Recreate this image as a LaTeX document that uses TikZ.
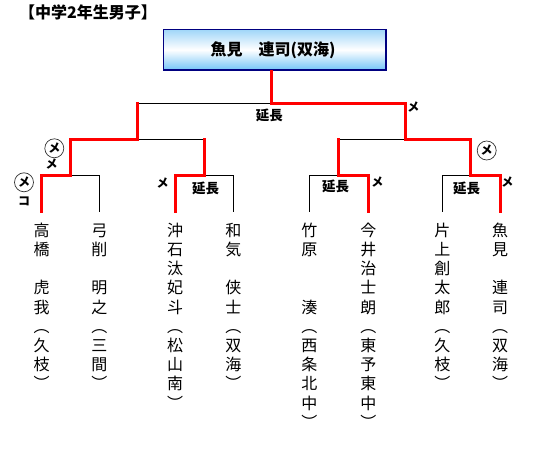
\documentclass[tikz,border=0pt]{standalone}
\usepackage{fontspec}
\setmainfont{Noto Sans CJK JP}
\definecolor{boxtop}{RGB}{160,214,248}
\definecolor{boxbot}{RGB}{115,196,248}
\definecolor{boxline}{RGB}{0,0,128}
\begin{document}
\begin{tikzpicture}[x=1pt,y=-1pt,
  win/.style={draw=red,line width=3pt,line join=miter,line cap=rect},
  lose/.style={draw=black,line width=1pt},
  namecol/.style={anchor=north,inner sep=0pt,align=center,font=\fontsize{16pt}{19.2pt}\selectfont},
  enchou/.style={inner sep=0pt,font=\fontsize{13.5pt}{14pt}\selectfont\bfseries},
  kmark/.style={inner sep=0pt,font=\fontsize{12pt}{12pt}\selectfont\bfseries},
  cmark/.style={circle,draw=black!80,line width=0.7pt,minimum size=19pt,inner sep=0pt,font=\fontsize{12pt}{12pt}\selectfont\bfseries}]
\useasboundingbox (0,0) rectangle (541,457);
% title
\node[inner sep=0pt,font=\fontsize{16pt}{16pt}\selectfont\bfseries] (title) at (88,12.5) {【中学2年生男子】};
% champion box
\shade[top color=boxtop,bottom color=boxbot,middle color=white] (163.5,29.5) rectangle (386,70);
\draw[draw=boxline,line width=1.3pt] (163.5,29.5) rectangle (386,70);
\node[inner sep=0pt,font=\fontsize{16pt}{16pt}\selectfont\bfseries] (champ) at (273,50) {魚見　連司(双海)};
\coordinate (cb) at (271.5,72);
% leaves
\foreach \n/\x in {l1/41.7,l2/99.3,l3/175,l4/233.3,l5/309.3,l6/368.3,l7/442.3,l8/500}{
  \coordinate (\n) at (\x,212);
  \coordinate (\n j) at (\x,176);
}
% round-1 junctions
\coordinate (a1) at (70,176);   \coordinate (a1u) at (70,140);
\coordinate (a2) at (204.3,176);\coordinate (a2u) at (204.3,140);
\coordinate (a3) at (338.3,176);\coordinate (a3u) at (338.3,140);
\coordinate (a4) at (470.7,176);\coordinate (a4u) at (470.7,140);
% semifinal junctions
\coordinate (b1) at (137.3,140);\coordinate (b1u) at (137.3,104);
\coordinate (b2) at (405.7,140);\coordinate (b2u) at (405.7,104);
\coordinate (f) at (271.5,104);
% names
\node[namecol] (n1) at (41.7,222.1) {\rule{0pt}{14pt}高\\橋\\　\\虎\\我\\︵\\久\\枝\\︶};
\node[namecol] (n2) at (99.3,222.1) {\rule{0pt}{14pt}弓\\削\\　\\明\\之\\︵\\三\\間\\︶};
\node[namecol] (n3) at (175,222.1) {\rule{0pt}{14pt}沖\\石\\汰\\妃\\斗\\︵\\松\\山\\南\\︶};
\node[namecol] (n4) at (233.3,222.1) {\rule{0pt}{14pt}和\\気\\　\\侠\\士\\︵\\双\\海\\︶};
\node[namecol] (n5) at (309.3,222.1) {\rule{0pt}{14pt}竹\\原\\　\\　\\湊\\︵\\西\\条\\北\\中\\︶};
\node[namecol] (n6) at (368.3,222.1) {\rule{0pt}{14pt}今\\井\\治\\士\\朗\\︵\\東\\予\\東\\中\\︶};
\node[namecol] (n7) at (442.3,222.1) {\rule{0pt}{14pt}片\\上\\創\\太\\郎\\︵\\久\\枝\\︶};
\node[namecol] (n8) at (500,222.1) {\rule{0pt}{14pt}魚\\見\\　\\連\\司\\︵\\双\\海\\︶};
% losing lines
\draw[lose] (l2) -- (l2j) -- (a1);
\draw[lose] (l4) -- (l4j) -- (a2);
\draw[lose] (l5) -- (l5j) -- (a3);
\draw[lose] (l7) -- (l7j) -- (a4);
\draw[lose] (b1) -- (a2u);
\draw[lose] (a3u) -- (b2);
\draw[lose] (b1u) -- (f);
% winning lines
\draw[win] (l1) -- (l1j) -- (a1) -- (a1u) -- (b1) -- (b1u);
\draw[win] (l3) -- (l3j) -- (a2) -- (a2u);
\draw[win] (l6) -- (l6j) -- (a3) -- (a3u);
\draw[win] (l8) -- (l8j) -- (a4) -- (a4u) -- (b2) -- (b2u) -- (f) -- (cb);
% labels
\node[enchou] (e0) at (269.3,115) {延長};
\node[enchou] (e1) at (205.7,188) {延長};
\node[enchou] (e2) at (335.7,186) {延長};
\node[enchou] (e3) at (466.7,188) {延長};
\node[cmark] (c1) at (24,182.3) {メ};
\node[kmark] (k1) at (24,201.7) {コ};
\node[cmark] (c2) at (54.3,148.3) {メ};
\node[kmark] (m1) at (51.7,164.3) {メ};
\node[kmark] (m2) at (162.7,183.3) {メ};
\node[kmark] (m3) at (377.3,181.7) {メ};
\node[kmark] (m4) at (413.3,106.7) {メ};
\node[cmark] (c3) at (486.7,150.5) {メ};
\node[kmark] (m5) at (507.3,181.7) {メ};
\end{tikzpicture}
\end{document}
